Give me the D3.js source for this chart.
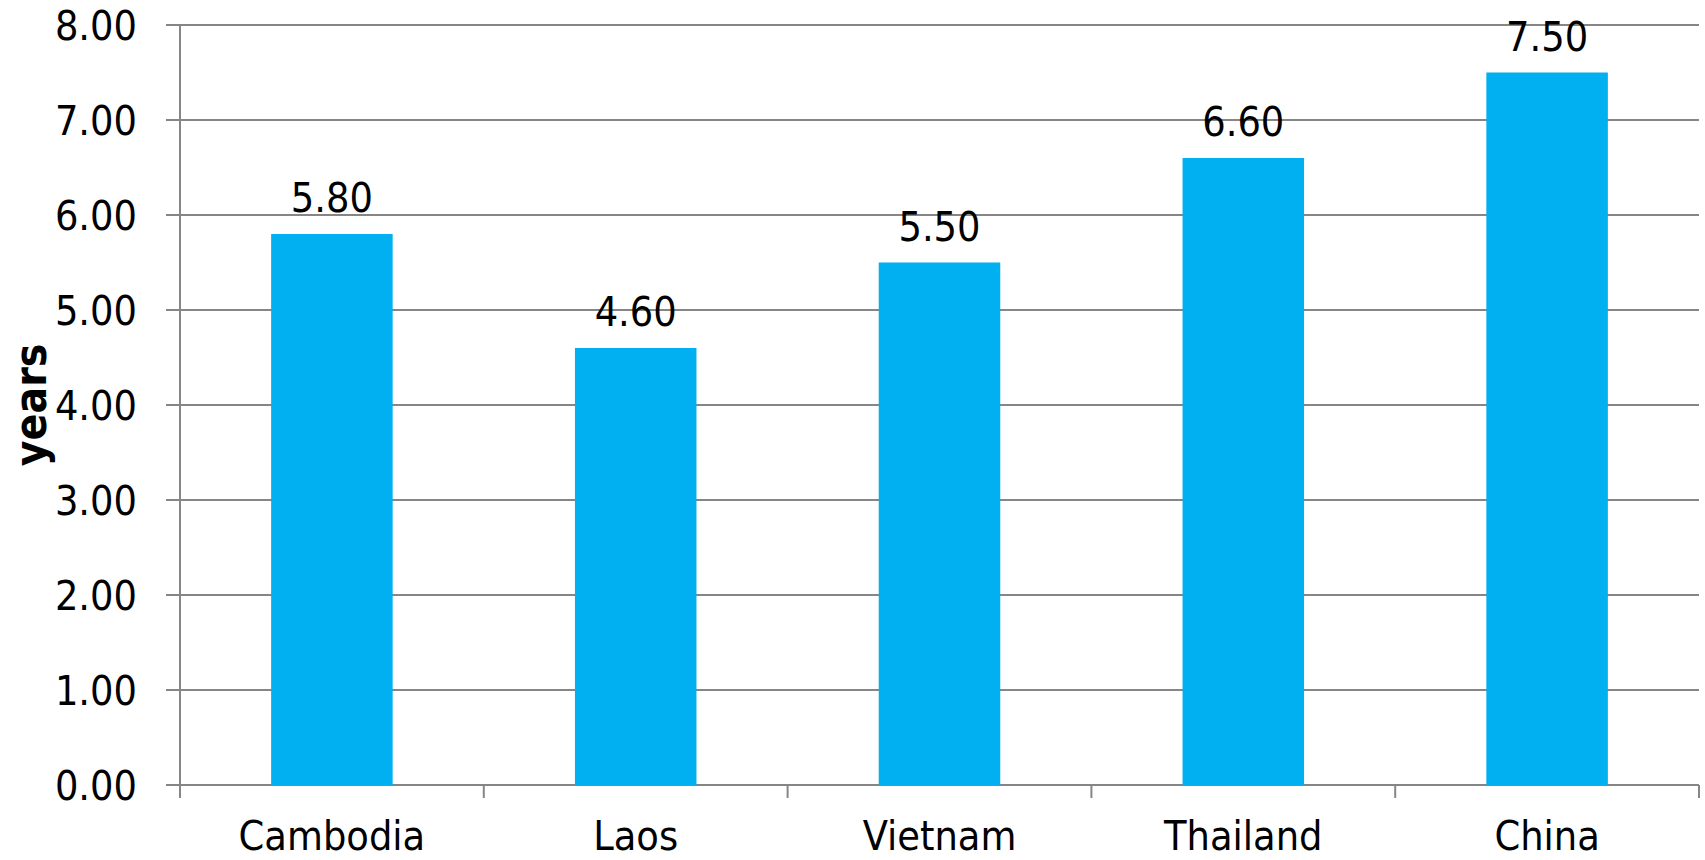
<!DOCTYPE html>
<html>
<head>
<meta charset="utf-8">
<script src="https://cdn.jsdelivr.net/npm/d3@7"></script>
<style>
  html, body { margin: 0; padding: 0; background: #fff; }
  svg text { font-family: "DejaVu Sans Condensed", "DejaVu Sans", sans-serif; font-stretch: condensed; fill: #000; }
</style>
</head>
<body>
<svg id="chart" width="1705" height="860"></svg>
<script>
// Average years of schooling by country
const countries = ["Cambodia", "Laos", "Vietnam", "Thailand", "China"];
const years = [5.80, 4.60, 5.50, 6.60, 7.50];
const yTicks = [0, 1, 2, 3, 4, 5, 6, 7, 8];

const svg = d3.select("#chart");
const margin = { left: 180, right: 6, top: 25, bottom: 75 };
const W = 1705, H = 860;
const axisColor = "#868686";

const x = d3.scaleBand()
  .domain(countries)
  .range([margin.left, W - margin.right])
  .paddingInner(0.6)
  .paddingOuter(0.3);

const y = d3.scaleLinear()
  .domain([0, 8])
  .range([H - margin.bottom, margin.top]);

// Horizontal gridlines with small ticks past the y axis
const grid = svg.append("g");
grid.selectAll("line")
  .data(yTicks)
  .join("line")
  .attr("x1", margin.left - 14)
  .attr("x2", W - margin.right)
  .attr("y1", d => y(d))
  .attr("y2", d => y(d))
  .attr("stroke", axisColor)
  .attr("stroke-width", 2);

// Y tick labels
svg.append("g").selectAll("text")
  .data(yTicks)
  .join("text")
  .attr("x", margin.left - 43)
  .attr("y", d => y(d))
  .attr("dy", "0.36em")
  .attr("text-anchor", "end")
  .attr("font-size", 41)
  .text(d => d3.format(".2f")(d));

// Bars
svg.append("g").selectAll("rect")
  .data(countries)
  .join("rect")
  .attr("x", d => x(d))
  .attr("width", x.bandwidth())
  .attr("y", (d, i) => y(years[i]))
  .attr("height", (d, i) => y(0) - y(years[i]))
  .attr("fill", "#00B0F0");

// Value labels above bars
svg.append("g").selectAll("text")
  .data(countries)
  .join("text")
  .attr("x", d => x(d) + x.bandwidth() / 2)
  .attr("y", (d, i) => y(years[i]) - 22)
  .attr("text-anchor", "middle")
  .attr("font-size", 41)
  .text((d, i) => d3.format(".2f")(years[i]));

// Y axis line
svg.append("line")
  .attr("x1", margin.left).attr("x2", margin.left)
  .attr("y1", y(8)).attr("y2", y(0) + 13)
  .attr("stroke", axisColor).attr("stroke-width", 2);

// X axis with category boundary ticks
const boundaries = d3.range(countries.length + 1).map(i => margin.left + i * (W - margin.right - margin.left) / countries.length);
svg.append("g").selectAll("line")
  .data(boundaries)
  .join("line")
  .attr("x1", d => d).attr("x2", d => d)
  .attr("y1", y(0)).attr("y2", y(0) + 13)
  .attr("stroke", axisColor).attr("stroke-width", 2);

// Category labels
svg.append("g").selectAll("text")
  .data(countries)
  .join("text")
  .attr("x", d => x(d) + x.bandwidth() / 2)
  .attr("y", y(0) + 65)
  .attr("text-anchor", "middle")
  .attr("font-size", 41)
  .text(d => d);

// Y axis title
svg.append("text")
  .attr("transform", `translate(46, ${(y(0) + y(8)) / 2}) rotate(-90)`)
  .attr("text-anchor", "middle")
  .attr("font-size", 44)
  .attr("font-weight", "bold")
  .text("years");
</script>
</body>
</html>
